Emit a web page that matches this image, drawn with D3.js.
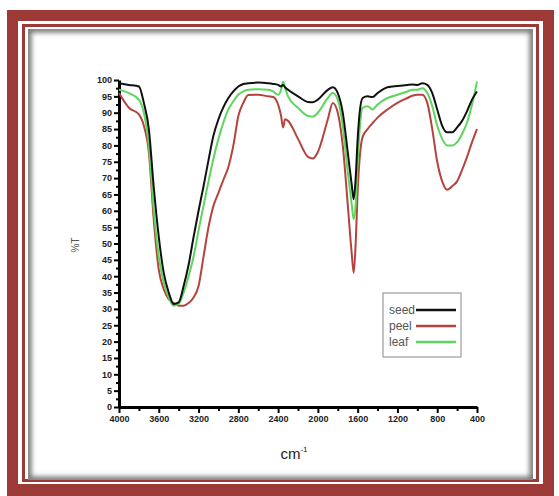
<!DOCTYPE html>
<html>
<head>
<meta charset="utf-8">
<script src="https://cdn.jsdelivr.net/npm/d3@7"></script>
<style>
    body { margin: 0; background: #fff; }
    text { font-family: "Liberation Sans", Arial, sans-serif; }
    .tick text { font-weight: bold; font-size: 9px; fill: #222; }
</style>
</head>
<body>
<svg width="559" height="496"></svg>
<script>
// wavenumbers (cm-1) shared by all three spectra
var wavenumbers = [4000, 3900, 3800, 3750, 3700, 3650, 3600, 3550, 3500, 3450,
    3400, 3350, 3300, 3250, 3200, 3150, 3100, 3050, 3000, 2950,
    2900, 2850, 2800, 2750, 2700, 2600, 2500, 2450, 2400, 2370,
    2350, 2330, 2300, 2200, 2100, 2050, 2000, 1900, 1850, 1800,
    1750, 1700, 1660, 1640, 1620, 1600, 1580, 1550, 1500, 1450,
    1400, 1300, 1200, 1100, 1050, 1000, 950, 900, 850, 800,
    750, 700, 650, 600, 550, 500, 450, 400];

var seedT = [99, 98.5, 98, 93, 85, 67, 52, 41, 35, 31.5,
    32, 37, 43.5, 52, 60, 67.5, 75.5, 83, 88, 91.7,
    94.5, 96.5, 98, 98.8, 99, 99.2, 99, 98.8, 98.5, 98,
    98.5, 97.8, 97, 95, 93.3, 93.2, 94, 97, 97.8, 96,
    90, 78, 68, 63.5, 70, 82, 90, 94.5, 95, 94.8,
    96, 97.8, 98.2, 98.5, 98.6, 98.5, 99, 98.5, 96, 91,
    86, 84, 84, 85.5, 87.5, 90.5, 94, 96.5];

var peelT = [96, 91.5, 89.5, 86, 78, 57, 42, 36, 33, 31.8,
    31, 31, 31.8, 33.5, 37, 46, 55, 61.5, 65.5, 69.5,
    73.4, 80, 89, 93, 95.4, 95.5, 95, 94.8, 92.5, 89,
    85.5, 88, 87.5, 82, 76.5, 76, 78, 88, 93, 90,
    80, 62, 47, 41, 50, 66, 76, 82.6, 85, 86.8,
    88.5, 91, 93, 94.5, 95.2, 95.5, 95.5, 93, 85, 75,
    69, 66.4, 67.5, 69, 72.5, 76.5, 81, 85];

var leafT = [97, 96, 94, 90, 80, 60, 46, 38, 33.5, 31,
    31.5, 35, 40, 46, 54, 61.5, 69, 76, 82, 87,
    91, 93.5, 95.5, 96.5, 97, 97.2, 97, 96.5, 95.5, 97,
    99.5, 97.5, 95, 91.5, 89, 88.8, 90, 94.5, 96, 94,
    86, 72, 62, 57.5, 62, 75, 85, 91.5, 92, 91,
    92.5, 94.5, 95.5, 96.5, 97, 97, 97.5, 96, 92, 86,
    82, 80, 80, 81, 83.5, 87, 92.5, 99.5];

var seriesNames = ["seed", "peel", "leaf"];
var seriesColors = ["#111111", "#b5433c", "#5cd65c"];
var xTickValues = [4000, 3600, 3200, 2800, 2400, 2000, 1600, 1200, 800, 400];

var svg, xScale, yScale, plot;
var frameColor = "#9b3a37";

function drawFrame() {
    var defs = svg.append("defs");
    defs.append("clipPath").attr("id", "panelClip")
        .append("rect").attr("x", 28).attr("y", 29).attr("width", 505).attr("height", 451);
    defs.append("filter").attr("id", "blur")
        .attr("x", "-10%").attr("y", "-10%").attr("width", "120%").attr("height", "120%")
        .append("feGaussianBlur").attr("stdDeviation", 2.5);

    // thick outer band
    svg.append("rect").attr("x", 7).attr("y", 10).attr("width", 547).attr("height", 486)
        .attr("fill", frameColor);
    svg.append("rect").attr("x", 18).attr("y", 21).attr("width", 525).attr("height", 463)
        .attr("fill", "#fff");
    // thin inner line
    svg.append("rect").attr("x", 23.5).attr("y", 25.5).attr("width", 514).attr("height", 455)
        .attr("fill", "none").attr("stroke", frameColor).attr("stroke-width", 3);
    // panel with soft inner shadow
    svg.append("rect").attr("x", 28).attr("y", 29).attr("width", 505).attr("height", 451)
        .attr("fill", "#fff");
    svg.append("rect").attr("x", 28).attr("y", 29).attr("width", 505).attr("height", 451)
        .attr("fill", "none").attr("stroke", "#777").attr("stroke-width", 7)
        .attr("clip-path", "url(#panelClip)").attr("filter", "url(#blur)");
}

function initLayout() {
    svg = d3.select("svg");
    xScale = d3.scaleLinear().domain([4000, 400]).range([119, 477]);
    yScale = d3.scaleLinear().domain([0, 100]).range([407, 80]);
    drawFrame();
    plot = svg.append("g");
}

function drawAxes() {
    // minor ticks first, then the labelled ones
    plot.append("g")
        .attr("transform", "translate(0," + yScale(0) + ")")
        .call(d3.axisBottom(xScale).tickValues(d3.range(3800, 400, -400)).tickSize(4).tickFormat(""))
        .call(function (g) { g.select(".domain").remove(); })
        .selectAll("line").attr("stroke-width", 2);
    var xAxisG = plot.append("g")
        .attr("transform", "translate(0," + yScale(0) + ")")
        .call(d3.axisBottom(xScale).tickValues(xTickValues).tickFormat(d3.format("d"))
            .tickSize(6).tickSizeOuter(0).tickPadding(3));
    xAxisG.select(".domain").attr("stroke-width", 3);
    xAxisG.selectAll(".tick line").attr("stroke-width", 2);

    plot.append("g")
        .attr("transform", "translate(" + xScale(4000) + ",0)")
        .call(d3.axisLeft(yScale).tickValues(d3.range(2.5, 100, 5)).tickSize(3).tickFormat(""))
        .call(function (g) { g.select(".domain").remove(); })
        .selectAll("line").attr("stroke-width", 2);
    var yAxisG = plot.append("g")
        .attr("transform", "translate(" + xScale(4000) + ",0)")
        .call(d3.axisLeft(yScale).tickValues(d3.range(0, 101, 5)).tickSize(5).tickSizeOuter(0).tickPadding(2));
    yAxisG.select(".domain").attr("stroke-width", 3);
    yAxisG.selectAll(".tick line").attr("stroke-width", 2);

    // axis titles
    svg.append("text")
        .attr("transform", "translate(79,245) rotate(-90)")
        .attr("text-anchor", "middle")
        .attr("font-size", 10)
        .attr("fill", "#555")
        .text("%T");
    var xt = svg.append("text")
        .attr("x", 294).attr("y", 459)
        .attr("text-anchor", "middle")
        .attr("font-size", 15)
        .attr("fill", "#222");
    xt.append("tspan").text("cm");
    xt.append("tspan").attr("dy", -7).attr("font-size", 8).text("-1");
}

function drawSpectra() {
    var allSeries = [peelT, leafT, seedT];
    var order = [1, 2, 0];
    var line = d3.line()
        .x(function (d, i) { return xScale(wavenumbers[i]); })
        .y(function (d) { return yScale(d); })
        .curve(d3.curveMonotoneX);
    allSeries.forEach(function (vals, k) {
        plot.append("path")
            .datum(vals)
            .attr("fill", "none")
            .attr("stroke", seriesColors[order[k]])
            .attr("stroke-width", 2)
            .attr("stroke-linejoin", "round")
            .attr("d", line);
    });
}

function drawLegend() {
    var lg = svg.append("g").attr("transform", "translate(383,293)");
    lg.append("rect")
        .attr("width", 78).attr("height", 64)
        .attr("fill", "#fff").attr("stroke", "#888").attr("stroke-width", 1);
    seriesNames.forEach(function (name, i) {
        var y = 17 + i * 16;
        lg.append("text")
            .attr("x", 6).attr("y", y + 4)
            .attr("font-size", 12)
            .attr("fill", "#555")
            .text(name);
        lg.append("line")
            .attr("x1", 33).attr("x2", 73)
            .attr("y1", y).attr("y2", y)
            .attr("stroke", seriesColors[i])
            .attr("stroke-width", 2.5);
    });
}

initLayout();
drawAxes();
drawSpectra();
drawLegend();
</script>
</body>
</html>
